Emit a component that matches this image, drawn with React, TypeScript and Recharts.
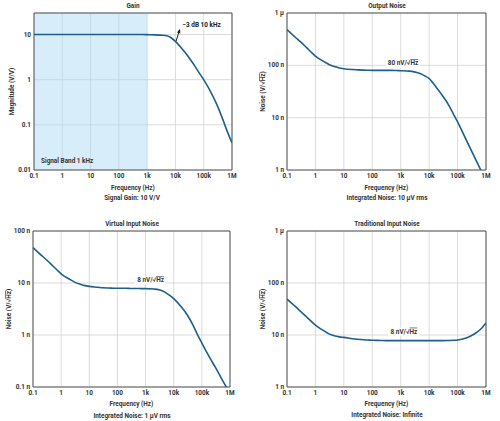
import React from "react";
import {
  LineChart,
  Line,
  XAxis,
  YAxis,
  CartesianGrid,
  ReferenceArea,
  ReferenceLine,
  ReferenceDot,
} from "recharts";

// frequency points (Hz) shared by all four curves
const freqs = [
  0.1, 0.2, 0.3, 0.5, 0.7, 1, 2, 3, 5, 7, 10, 20, 30, 50, 70, 100, 200, 300, 500, 700,
  1e3, 2e3, 3e3, 5e3, 7e3, 1e4, 2e4, 3e4, 5e4, 7e4, 1e5, 2e5, 3e5, 5e5, 7e5, 1e6,
];
const freqTicks = [0.1, 1, 10, 100, 1e3, 1e4, 1e5, 1e6];
const freqTickLabels = ["0.1", "1", "10", "100", "1k", "10k", "100k", "1M"];

// gain (V/V)
const gain = [
  10, 10, 10, 10, 10, 10, 10, 10, 10, 10, 10, 10, 10, 10, 10, 10, 10, 10, 10, 10,
  9.95, 9.85, 9.7, 9.4, 8.5, 7.07, 4.3, 3.1, 1.95, 1.4, 1.0, 0.46, 0.27, 0.12, 0.068, 0.04,
];
const gainTicks = [0.01, 0.1, 1, 10];
const gainTickLabels = ["0.01", "0.1", "1", "10"];

// noise densities in nV/rtHz
const outputNoise = [
  480, 340, 280, 215, 180, 150, 118, 104, 94, 89, 86, 83, 82, 81, 80.5, 80, 80, 80, 80, 79.5,
  79, 77.5, 75, 69, 63, 56, 35, 26, 17, 12, 8.3, 3.8, 2.4, 1.35, 0.93, 0.6,
];
const virtualNoise = [
  48, 34, 28, 21.5, 18, 15, 11.8, 10.4, 9.4, 8.9, 8.6, 8.3, 8.1, 8.0, 7.95, 7.9, 7.9, 7.85, 7.85, 7.8,
  7.8, 7.65, 7.4, 6.6, 5.85, 5.0, 3.3, 2.45, 1.5, 1.02, 0.7, 0.35, 0.24, 0.145, 0.105, 0.075,
];
const traditionalNoise = [
  49, 35, 28.5, 22, 18.5, 15.5, 12, 10.5, 9.6, 9.2, 9.0, 8.5, 8.3, 8.1, 8.0, 7.9, 7.85, 7.8, 7.8, 7.8,
  7.8, 7.8, 7.8, 7.8, 7.8, 7.8, 7.8, 7.8, 7.85, 7.9, 8.0, 8.8, 9.7, 11.5, 13.5, 17,
];

const noiseTicksA = [1e-9, 1e-8, 1e-7, 1e-6];
const noiseTickLabelsA = ["1 n", "10 n", "100 n", "1 µ"];
const noiseTicksB = [1e-10, 1e-9, 1e-8, 1e-7];
const noiseTickLabelsB = ["0.1 n", "1 n", "10 n", "100 n"];

const data = freqs.map((f, i) => ({
  f,
  gain: gain[i],
  out: outputNoise[i] * 1e-9,
  virt: virtualNoise[i] * 1e-9,
  trad: traditionalNoise[i] * 1e-9,
}));

const FONT = "Roboto, 'Liberation Sans', Arial, sans-serif";
const TEXT = { fontFamily: FONT, fontSize: 6.4, fontWeight: 700, fill: "#333" };
const CURVE = "#1d5f8c";
const GRID = "#d2d2d2";
const FRAME = "#555";

function NoiseTitle() {
  return (
    <>
      <tspan>Noise (V/√</tspan>
      <tspan style={{ textDecoration: "overline" }}>Hz</tspan>
      <tspan>)</tspan>
    </>
  );
}

function YTitle(props: any) {
  const { viewBox, cx, titleNode } = props;
  const cy = viewBox.y + viewBox.height / 2;
  return (
    <text
      x={cx}
      y={cy}
      transform={`rotate(-90 ${cx} ${cy})`}
      textAnchor="middle"
      dominantBaseline="central"
      {...TEXT}
    >
      {titleNode}
    </text>
  );
}

// plain svg ticks so labels like "100 n" never wrap
function XTick(props: any) {
  const { x, y, index } = props;
  return (
    <text x={x} y={y + 3} textAnchor="middle" dominantBaseline="hanging" {...TEXT}>
      {freqTickLabels[index]}
    </text>
  );
}

function YTick(props: any) {
  const { x, y, index, labels } = props;
  return (
    <text x={x} y={y} textAnchor="end" dominantBaseline="central" {...TEXT}>
      {labels[index]}
    </text>
  );
}

// little "xx nV/√Hz" note with a white box behind it
function DensityNote(props: any) {
  const { cx, cy, amount, boxWidth } = props;
  return (
    <g>
      <rect x={cx - boxWidth / 2} y={cy - 4} width={boxWidth} height={8} fill="#fff" />
      <text x={cx} y={cy} textAnchor="middle" dominantBaseline="central" {...TEXT}>
        <tspan>{amount} nV/√</tspan>
        <tspan style={{ textDecoration: "overline" }}>Hz</tspan>
      </text>
    </g>
  );
}

function ArrowNote(props: any) {
  const { x1, y1, x2, y2 } = props;
  const ang = Math.atan2(y2 - y1, x2 - x1);
  const len = 4.5;
  const half = 1.8;
  const bx = x2 - len * Math.cos(ang);
  const by = y2 - len * Math.sin(ang);
  const px = -Math.sin(ang) * half;
  const py = Math.cos(ang) * half;
  return (
    <g>
      <line x1={x1} y1={y1} x2={bx} y2={by} stroke="#222" strokeWidth={1} />
      <polygon
        points={`${x2},${y2} ${bx + px},${by + py} ${bx - px},${by - py}`}
        fill="#222"
      />
      <text x={x2 + 2.5} y={y2 - 1.3} {...TEXT} fill="#222">
        −3 dB 10 kHz
      </text>
    </g>
  );
}

function Caption({ x, y, children }: any) {
  return (
    <div
      style={{
        position: "absolute",
        left: x - 60,
        top: y - 4,
        width: 120,
        height: 8,
        lineHeight: "8px",
        textAlign: "center",
        fontFamily: FONT,
        fontSize: 6.4,
        fontWeight: 700,
        color: "#333",
        whiteSpace: "nowrap",
      }}
    >
      {children}
    </div>
  );
}

interface PanelProps {
  left: number;
  top: number;
  height: number;
  margin: { top: number; right: number; left: number; bottom: number };
  yWidth: number;
  xHeight: number;
  xTitleOffset: number;
  yTitleX: number;
  dataKey: string;
  yDomain: [number, number];
  yTicks: number[];
  yLabels: string[];
  yTitle: React.ReactNode;
  children?: React.ReactNode;
}

function Panel(p: PanelProps) {
  return (
    <div style={{ position: "absolute", left: p.left, top: p.top }}>
      <LineChart width={250} height={p.height} data={data} margin={p.margin}>
        <CartesianGrid stroke={GRID} strokeWidth={0.8} />
        <XAxis
          dataKey="f"
          type="number"
          scale="log"
          domain={[0.1, 1e6]}
          ticks={freqTicks}
          interval={0}
          allowDataOverflow
          height={p.xHeight}
          tickLine={false}
          axisLine={false}
          tickSize={0}
          tickMargin={0}
          tick={<XTick />}
          label={{ value: "Frequency (Hz)", position: "insideTop", offset: p.xTitleOffset, ...TEXT }}
        />
        <YAxis
          type="number"
          scale="log"
          domain={p.yDomain}
          ticks={p.yTicks}
          interval={0}
          allowDataOverflow
          width={p.yWidth}
          tickLine={false}
          axisLine={false}
          tickSize={3}
          tickMargin={0}
          tick={<YTick labels={p.yLabels} />}
          label={<YTitle cx={p.yTitleX} titleNode={p.yTitle} />}
        />
        {p.children}
        <Line
          type="monotone"
          dataKey={p.dataKey}
          stroke={CURVE}
          strokeWidth={1.6}
          dot={false}
          isAnimationActive={false}
        />
        <ReferenceArea
          x1={0.1}
          x2={1e6}
          y1={p.yDomain[0]}
          y2={p.yDomain[1]}
          fill="none"
          stroke={FRAME}
          strokeWidth={1}
          ifOverflow="visible"
        />
      </LineChart>
    </div>
  );
}

export default function App() {
  return (
    <div
      style={{
        position: "absolute",
        left: 0,
        top: 0,
        width: 500,
        height: 421,
        background: "#fff",
        overflow: "hidden",
      }}
    >
      <Panel
        left={0}
        top={0}
        height={210}
        margin={{ top: 13, right: 18, left: 0, bottom: 0 }}
        yWidth={34}
        xHeight={40}
        xTitleOffset={15}
        yTitleX={12}
        dataKey="gain"
        yDomain={[0.01, 30]}
        yTicks={gainTicks}
        yLabels={gainTickLabels}
        yTitle="Magnitude (V/V)"
      >
        <ReferenceArea
          x1={0.1}
          x2={1000}
          fill="#a9d8f5"
          fillOpacity={0.45}
          label={{ value: "Signal Band 1 kHz", position: "insideBottomLeft", offset: 7, ...TEXT }}
        />
        <ReferenceLine
          segment={[
            { x: 10500, y: 7.1 },
            { x: 14500, y: 13.5 },
          ]}
          shape={ArrowNote}
          ifOverflow="visible"
        />
      </Panel>
      <Panel
        left={250}
        top={0}
        height={210}
        margin={{ top: 13, right: 14, left: 0, bottom: 0 }}
        yWidth={37}
        xHeight={40}
        xTitleOffset={15}
        yTitleX={13}
        dataKey="out"
        yDomain={[1e-9, 1e-6]}
        yTicks={noiseTicksA}
        yLabels={noiseTickLabelsA}
        yTitle={<NoiseTitle />}
      >
        <ReferenceDot
          x={1200}
          y={1.09e-7}
          ifOverflow="visible"
          shape={(s: any) => <DensityNote {...s} amount="80" boxWidth={34} />}
        />
      </Panel>
      <Panel
        left={0}
        top={210}
        height={211}
        margin={{ top: 21, right: 20, left: 0, bottom: 0 }}
        yWidth={33}
        xHeight={34}
        xTitleOffset={14.5}
        yTitleX={9}
        dataKey="virt"
        yDomain={[1e-10, 1e-7]}
        yTicks={noiseTicksB}
        yLabels={noiseTickLabelsB}
        yTitle={<NoiseTitle />}
      >
        <ReferenceDot
          x={1500}
          y={1.12e-8}
          ifOverflow="visible"
          shape={(s: any) => <DensityNote {...s} amount="8" boxWidth={31} />}
        />
      </Panel>
      <Panel
        left={250}
        top={210}
        height={211}
        margin={{ top: 21, right: 14, left: 0, bottom: 0 }}
        yWidth={37}
        xHeight={34}
        xTitleOffset={14.5}
        yTitleX={13}
        dataKey="trad"
        yDomain={[1e-9, 1e-6]}
        yTicks={noiseTicksA}
        yLabels={noiseTickLabelsA}
        yTitle={<NoiseTitle />}
      >
        <ReferenceDot
          x={1300}
          y={1.16e-8}
          ifOverflow="visible"
          shape={(s: any) => <DensityNote {...s} amount="8" boxWidth={31} />}
        />
      </Panel>

      <Caption x={133} y={6}>Gain</Caption>
      <Caption x={387} y={6}>Output Noise</Caption>
      <Caption x={132} y={224}>Virtual Input Noise</Caption>
      <Caption x={387} y={224}>Traditional Input Noise</Caption>

      <Caption x={132} y={198}>Signal Gain: 10 V/V</Caption>
      <Caption x={387} y={198}>Integrated Noise: 10 µV rms</Caption>
      <Caption x={132} y={416}>Integrated Noise: 1 µV rms</Caption>
      <Caption x={387} y={415}>Integrated Noise: Infinite</Caption>
    </div>
  );
}
